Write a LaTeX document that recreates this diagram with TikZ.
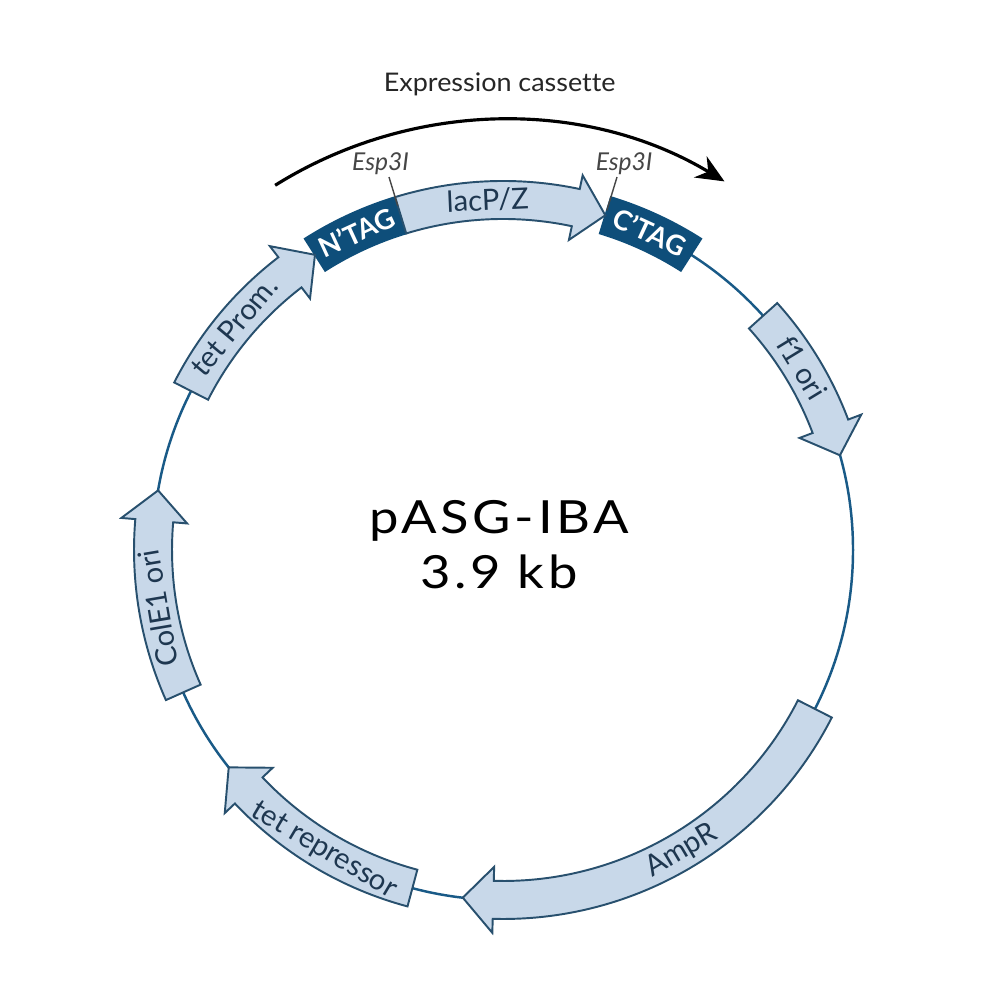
\documentclass[tikz,border=0pt]{standalone}
\usepackage{fontspec}
\setmainfont{Lato}[Ligatures=NoCommon]
\newfontfamily\namefont{Lato}[FakeStretch=1.15, LetterSpace=8]
\newfontfamily\titlefont{Lato}[Ligatures=NoCommon, FakeStretch=1.05]
\usetikzlibrary{arrows.meta}
\definecolor{featfill}{RGB}{200,216,233}
\definecolor{featline}{RGB}{40,80,110}
\definecolor{feattext}{RGB}{30,55,80}
\definecolor{tagdark}{RGB}{14,78,122}
\definecolor{backbonecol}{RGB}{25,90,135}
\definecolor{sitegray}{RGB}{70,70,70}
\tikzset{
  backbone/.style={draw=backbonecol, line width=0.7pt},
  featarrow/.style={draw=featline, fill=featfill, line width=0.55pt, line join=miter},
  featlabel/.style={font=\fontsize{8.3}{10}\selectfont, text=feattext, inner sep=0pt},
  tagbox/.style={draw=tagdark, fill=tagdark, line width=0.5pt},
  taglabel/.style={font=\fontsize{7.8}{9}\selectfont\bfseries, text=white, inner sep=0pt},
  sitetick/.style={draw=sitegray, line width=0.4pt},
  sitelabel/.style={font=\fontsize{7}{8}\selectfont\itshape, text=sitegray, inner sep=0pt},
  cassette/.style={-{Stealth[length=8pt,width=7pt]}, line width=0.9pt, draw=black},
  titlelabel/.style={font=\titlefont\fontsize{7.3}{9}\selectfont, text=black!85, inner sep=0pt},
  namelabel/.style={font=\namefont\fontsize{13}{15.6}\selectfont, align=center, inner sep=0pt},
}

\begin{document}
\begin{tikzpicture}
  \useasboundingbox (0,0) rectangle (10,10);
  \fill[white] (0,0) rectangle (10,10);

  \begin{scope}[shift={(5.03,4.50)}]
    % backbone of the plasmid
    \draw[backbone] (0,0) circle[radius=3.5];

    % tag boxes
    \draw[tagbox] (122.5:3.69) arc[start angle=122.5, end angle=107, radius=3.69]
      -- (107:3.31) arc[start angle=107, end angle=122.5, radius=3.31] -- cycle;
    \draw[tagbox] (73:3.69) arc[start angle=73, end angle=57.5, radius=3.69]
      -- (57.5:3.31) arc[start angle=57.5, end angle=73, radius=3.31] -- cycle;
    \node[taglabel, rotate=24.75]  (ntag) at (114.75:3.5) {N'TAG};
    \node[taglabel, rotate=-24.75] (ctag) at (65.25:3.5)  {C'TAG};

    % features: start / tip / name / label / flip
    \foreach \s/\e/\nm/\t/\flip in {153/122.5/tetprom/tet Prom./0,
        107/73/lacpz/lacP\slash Z/0,
        42/15.7/fori/f1 ori/0,
        -27/-96.6/ampr/AmpR/1,
        255/218.4/tetrep/tet repressor/1,
        204/170.2/colei/ColE1 ori/0} {
      \pgfmathsetmacro\h{\e+5}
      \pgfmathsetmacro\m{(\s+\h)/2}
      \pgfmathsetmacro\rot{\m-90+180*\flip}
      \draw[featarrow] (\s:3.69) arc[start angle=\s, end angle=\h, radius=3.69]
        -- (\h:3.83) -- (\e:3.5) -- (\h:3.17) -- (\h:3.31)
        arc[start angle=\h, end angle=\s, radius=3.31] -- cycle;
      \node[featlabel, rotate=\rot] (\nm) at (\m:3.5) {\t};
    }

    % Esp3I sites
    \coordinate (nsite) at (107:3.6);
    \coordinate (nsitetop) at (107:3.9);
    \coordinate (csite) at (73:3.55);
    \coordinate (csitetop) at (73:3.9);
    \node[sitelabel] (nesp) at (107.6:4.05) {Esp3I};
    \node[sitelabel] (cesp) at (72.6:4.05)  {Esp3I};
    \draw[sitetick] (nsite) -- (nsitetop);
    \draw[sitetick] (csite) -- (csitetop);

    % expression cassette
    \draw[cassette] (122:4.30) arc[start angle=122, end angle=59, radius=4.30];
    \node[titlelabel] (expr) at (90.4:4.66) {Expression cassette};

    % plasmid name
    \node[namelabel] (name) at (-0.04,0.05) {pASG-IBA\\3.9 kb};
  \end{scope}
\end{tikzpicture}
\end{document}
